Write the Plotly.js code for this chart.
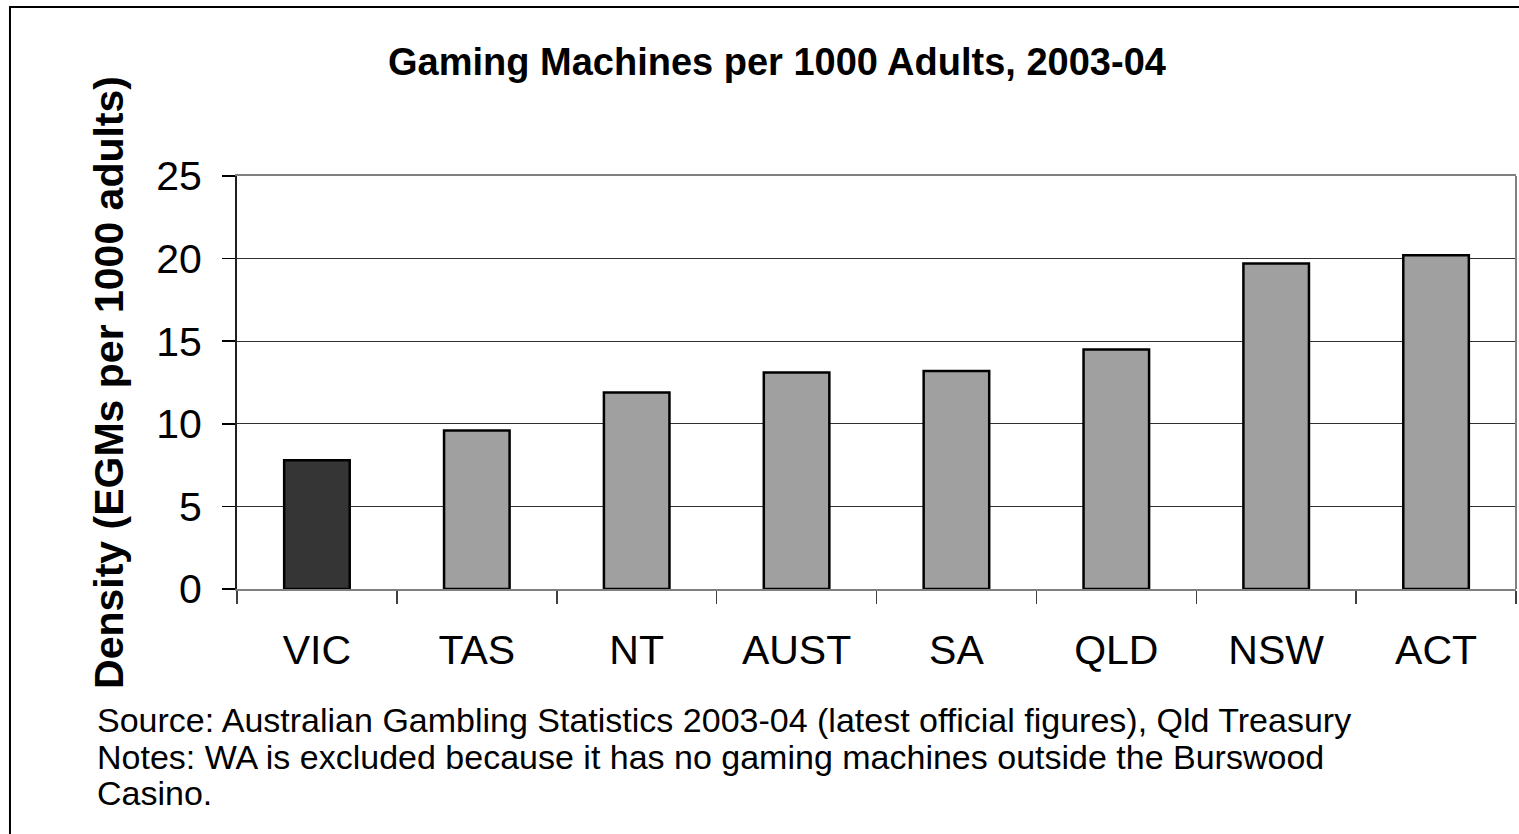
<!DOCTYPE html>
<html>
<head>
<meta charset="utf-8">
<script src="https://cdn.plot.ly/plotly-3.0.1.min.js"></script>
<style>
html,body{margin:0;padding:0;background:#fff;}
#chart{width:1519px;height:834px;}
</style>
</head>
<body>
<div id="chart"></div>
<script>
const categories = ["VIC", "TAS", "NT", "AUST", "SA", "QLD", "NSW", "ACT"];
const density = [7.8, 9.6, 11.9, 13.1, 13.2, 14.5, 19.7, 20.2];
const barColors = ["#353535", "#a0a0a0", "#a0a0a0", "#a0a0a0", "#a0a0a0", "#a0a0a0", "#a0a0a0", "#a0a0a0"];
const yTicks = [0, 5, 10, 15, 20, 25];
const chartTitle = "Gaming Machines per 1000 Adults, 2003-04";
const yTitle = "Density (EGMs per 1000 adults)";
const noteLines = [
  "Source: Australian Gambling Statistics 2003-04 (latest official figures), Qld Treasury",
  "Notes: WA is excluded because it has no gaming machines outside the Burswood",
  "Casino."
];

const FONT = "'Liberation Sans', Arial, Helvetica, sans-serif";
const noteY = [-0.317, -0.406, -0.494];

const trace = {
  type: "bar",
  x: categories,
  y: density,
  marker: { color: barColors, line: { color: "#000000", width: 2.5 } },
  hoverinfo: "x+y"
};

const layout = {
  width: 1519,
  height: 834,
  margin: { l: 237, r: 3, t: 176, b: 245 },
  paper_bgcolor: "#ffffff",
  plot_bgcolor: "#ffffff",
  showlegend: false,
  bargap: 0.59,
  font: { family: FONT, color: "#000000" },
  title: {
    text: "<b>" + chartTitle + "</b>",
    font: { family: FONT, size: 38, color: "#000000" },
    x: 0.5115, xref: "container", xanchor: "center",
    y: 0.926, yref: "container", yanchor: "middle"
  },
  xaxis: {
    type: "category",
    tickson: "boundaries",
    ticks: "outside",
    ticklen: 13,
    tickwidth: 1.5,
    tickcolor: "#404040",
    ticklabelstandoff: 24,
    tickfont: { family: FONT, size: 41, color: "#000000" },
    showline: true,
    linecolor: "#808080",
    linewidth: 2,
    mirror: true,
    showgrid: false,
    zeroline: false,
    fixedrange: true
  },
  yaxis: {
    range: [0, 25],
    tickvals: yTicks,
    ticktext: yTicks.map(String),
    ticks: "outside",
    ticklen: 13,
    tickwidth: 1.5,
    tickcolor: "#000000",
    ticklabelstandoff: 12,
    tickfont: { family: FONT, size: 41, color: "#000000" },
    showline: true,
    linecolor: "#202020",
    linewidth: 2,
    showgrid: true,
    gridcolor: "#303030",
    gridwidth: 1,
    zeroline: false,
    fixedrange: true,
    title: {
      text: "<b>" + yTitle + "</b>",
      font: { family: FONT, size: 41, color: "#000000" },
      standoff: 20
    }
  },
  shapes: [
    { type: "line", xref: "paper", yref: "paper", x0: 1, x1: 1, y0: 0, y1: 1,
      line: { color: "#808080", width: 2 } },
    { type: "rect", xref: "paper", yref: "paper", x0: -0.1775, x1: 1.2, y0: -1, y1: 1.409,
      line: { color: "#000000", width: 2 }, fillcolor: "rgba(0,0,0,0)", layer: "below" }
  ],
  annotations: noteLines.map((t, i) => ({
    text: t, xref: "paper", yref: "paper", x: -0.111, y: noteY[i],
    xanchor: "left", yanchor: "middle", showarrow: false,
    font: { family: FONT, size: 34, color: "#000000" }
  }))
};

Plotly.newPlot("chart", [trace], layout, { displayModeBar: false, staticPlot: true });
</script>
</body>
</html>
